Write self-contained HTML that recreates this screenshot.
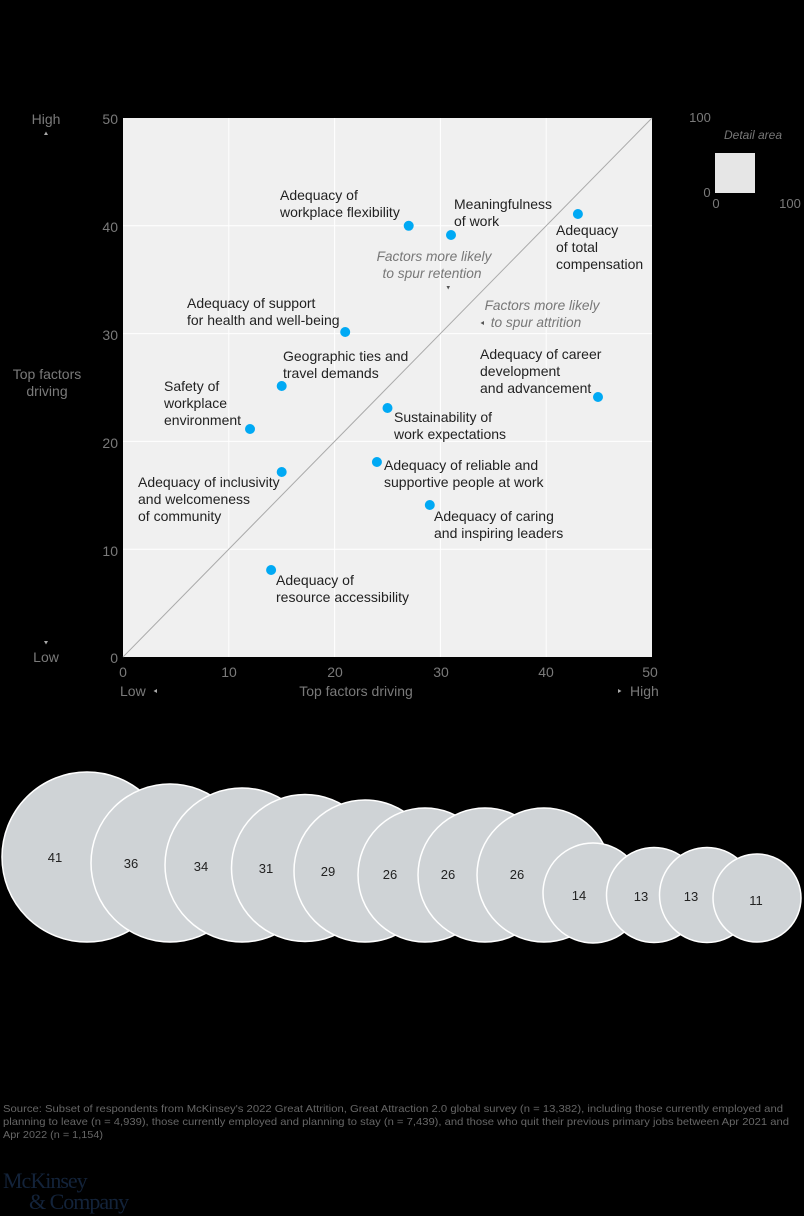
<!DOCTYPE html>
<html><head><meta charset="utf-8"><style>
html,body{margin:0;padding:0;background:#000;}
svg{display:block;font-family:"Liberation Sans",sans-serif;}
.l{font-size:14px;fill:#222;}
.ax{font-size:14px;fill:#7a7a7a;}
.it{font-size:13.7px;fill:#777;font-style:italic;}
.b{font-size:13px;fill:#222;text-anchor:middle;}
</style></head><body>
<svg width="804" height="1216" viewBox="0 0 804 1216" xmlns="http://www.w3.org/2000/svg">
<rect width="804" height="1216" fill="#000"/>
<rect x="123" y="118" width="529" height="539" fill="#f0f0f0"/>
<g stroke="#fff" stroke-width="1">
<line x1="228.8" y1="118" x2="228.8" y2="657"/><line x1="334.6" y1="118" x2="334.6" y2="657"/>
<line x1="440.4" y1="118" x2="440.4" y2="657"/><line x1="546.2" y1="118" x2="546.2" y2="657"/>
<line x1="123" y1="549.2" x2="652" y2="549.2"/><line x1="123" y1="441.4" x2="652" y2="441.4"/>
<line x1="123" y1="333.6" x2="652" y2="333.6"/><line x1="123" y1="225.8" x2="652" y2="225.8"/>
</g>
<line x1="123" y1="657" x2="652" y2="118" stroke="#aaa" stroke-width="1"/>
<g fill="#00a9f4">
<circle cx="408.7" cy="225.8" r="5"/><circle cx="451" cy="235" r="5"/><circle cx="577.9" cy="214" r="5"/>
<circle cx="345.2" cy="332" r="5"/><circle cx="281.7" cy="386" r="5"/><circle cx="250" cy="429" r="5"/>
<circle cx="598" cy="397" r="5"/><circle cx="387.5" cy="408" r="5"/><circle cx="281.7" cy="472" r="5"/>
<circle cx="376.9" cy="462" r="5"/><circle cx="429.8" cy="505" r="5"/><circle cx="271.1" cy="570" r="5"/>
</g>
<g class="l">
<text x="280" y="200">Adequacy of</text><text x="280" y="217">workplace flexibility</text>
<text x="454" y="209">Meaningfulness</text><text x="454" y="226">of work</text>
<text x="556" y="235">Adequacy</text><text x="556" y="252">of total</text><text x="556" y="269">compensation</text>
<text x="187" y="308">Adequacy of support</text><text x="187" y="325">for health and well-being</text>
<text x="283" y="361">Geographic ties and</text><text x="283" y="378">travel demands</text>
<text x="480" y="359">Adequacy of career</text><text x="480" y="376">development</text><text x="480" y="393">and advancement</text>
<text x="164" y="391">Safety of</text><text x="164" y="408">workplace</text><text x="164" y="425">environment</text>
<text x="394" y="422">Sustainability of</text><text x="394" y="439">work expectations</text>
<text x="138" y="487">Adequacy of inclusivity</text><text x="138" y="504">and welcomeness</text><text x="138" y="521">of community</text>
<text x="384" y="470">Adequacy of reliable and</text><text x="384" y="487">supportive people at work</text>
<text x="434" y="521">Adequacy of caring</text><text x="434" y="538">and inspiring leaders</text>
<text x="276" y="585">Adequacy of</text><text x="276" y="602">resource accessibility</text>
</g>
<g class="it">
<text x="434" y="261" text-anchor="middle">Factors more likely</text><text x="432" y="278" text-anchor="middle">to spur retention</text>
<text x="542" y="310" text-anchor="middle">Factors more likely</text><text x="536" y="327" text-anchor="middle">to spur attrition</text>
</g>
<path d="M446.5,286 L450,286 L448.2,289.5Z" fill="#555"/>
<path d="M484,321 L484,325 L480.5,323Z" fill="#555"/>
<g class="ax" text-anchor="end">
<text x="118" y="124">50</text><text x="118" y="232">40</text><text x="118" y="340">30</text>
<text x="118" y="448">20</text><text x="118" y="556">10</text><text x="118" y="663">0</text>
</g>
<g class="ax" text-anchor="middle">
<text x="123" y="677">0</text><text x="229" y="677">10</text><text x="335" y="677">20</text>
<text x="441" y="677">30</text><text x="546" y="677">40</text><text x="650" y="677">50</text>
<text x="356" y="696">Top factors driving</text>
<text x="46" y="124">High</text><text x="46" y="662">Low</text>
<text x="47" y="379">Top factors</text><text x="47" y="396">driving</text>
</g>
<text class="ax" x="120" y="696">Low</text>
<text class="ax" x="630" y="696">High</text>
<path d="M44,135 L48,135 L46,131.5Z" fill="#aaa"/>
<path d="M44,641 L48,641 L46,644.5Z" fill="#aaa"/>
<path d="M157,689 L157,693 L153.5,691Z" fill="#aaa"/>
<path d="M618,689 L618,693 L621.5,691Z" fill="#aaa"/>
<text class="ax" x="700" y="122" style="font-size:13px" text-anchor="middle">100</text>
<text x="753" y="139" style="font-size:12px;fill:#777;font-style:italic" text-anchor="middle">Detail area</text>
<rect x="715" y="153" width="40" height="40" fill="#e6e6e6"/>
<text class="ax" x="707" y="197" style="font-size:13px" text-anchor="middle">0</text>
<text class="ax" x="716" y="208" style="font-size:13px" text-anchor="middle">0</text>
<text class="ax" x="790" y="208" style="font-size:13px" text-anchor="middle">100</text>
<g fill="#cfd3d6" stroke="#fff" stroke-width="1.5">
<circle cx="87" cy="857" r="85"/><circle cx="170" cy="863" r="79"/><circle cx="242" cy="865" r="77"/>
<circle cx="305" cy="868" r="73.5"/><circle cx="365" cy="871" r="71"/><circle cx="425" cy="875" r="67"/>
<circle cx="485" cy="875" r="67"/><circle cx="544" cy="875" r="67"/><circle cx="593" cy="893" r="50"/>
<circle cx="654" cy="895" r="47.5"/><circle cx="707" cy="895" r="47.5"/><circle cx="757" cy="898" r="44"/>
</g>
<g class="b">
<text x="55" y="862">41</text><text x="131" y="868">36</text><text x="201" y="871">34</text>
<text x="266" y="873">31</text><text x="328" y="876">29</text><text x="390" y="879">26</text>
<text x="448" y="879">26</text><text x="517" y="879">26</text><text x="579" y="900">14</text>
<text x="641" y="901">13</text><text x="691" y="901">13</text><text x="756" y="905">11</text>
</g>
<g style="font-size:10.5px;fill:#666">
<text x="3" y="1112" textLength="780" lengthAdjust="spacingAndGlyphs">Source: Subset of respondents from McKinsey's 2022 Great Attrition, Great Attraction 2.0 global survey (n = 13,382), including those currently employed and</text>
<text x="3" y="1125" textLength="786" lengthAdjust="spacingAndGlyphs">planning to leave (n = 4,939), those currently employed and planning to stay (n = 7,439), and those who quit their previous primary jobs between Apr 2021 and</text>
<text x="3" y="1138" textLength="100" lengthAdjust="spacingAndGlyphs">Apr 2022 (n = 1,154)</text>
</g>
<g style="font-family:'Liberation Serif',serif;font-size:22px;fill:#13233a;letter-spacing:-1px">
<text x="3" y="1188">McKinsey</text><text x="29" y="1209">&amp; Company</text>
</g>
</svg>
</body></html>
